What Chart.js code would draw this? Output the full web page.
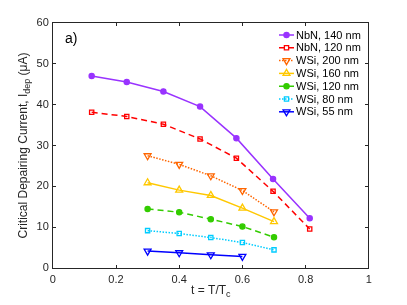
<!DOCTYPE html>
<html>
<head>
<meta charset="utf-8">
<script src="https://cdn.jsdelivr.net/npm/chart.js@4"></script>
<style>
  html, body { margin: 0; padding: 0; background: #fff; }
  #wrap { width: 407px; height: 305px; }
</style>
</head>
<body>
<div id="wrap"><canvas id="chart" width="407" height="305"></canvas></div>
<script>
// reduced temperature t = T/Tc
const tNbN = [0.123, 0.234, 0.35, 0.466, 0.581, 0.697, 0.813];
const tWSi = [0.3, 0.4, 0.5, 0.6, 0.7];
const tWSi55 = [0.3, 0.4, 0.5, 0.6];

// depairing current, uA
const nbn140 = [47.0, 45.5, 43.2, 39.5, 31.8, 21.8, 12.2];
const nbn120 = [38.1, 37.1, 35.2, 31.6, 26.9, 18.8, 9.6];
const wsi200 = [27.5, 25.4, 22.6, 19.0, 13.8];
const wsi160 = [20.9, 19.1, 17.8, 14.7, 11.4];
const wsi120 = [14.5, 13.7, 12.0, 10.2, 7.6];
const wsi80 = [9.2, 8.5, 7.5, 6.3, 4.5];
const wsi55 = [4.2, 3.8, 3.3, 2.9];

const xTicks = [0, 0.2, 0.4, 0.6, 0.8, 1];
const yTicks = [0, 10, 20, 30, 40, 50, 60];

const FONT = 'Helvetica, Arial, "Liberation Sans", sans-serif';
const AXIS = "#262626";

function pts(xs, ys) {
  return ys.map((y, i) => ({ x: xs[i], y: y }));
}

function series(label, xs, ys, color, dash, style, filled, rot, radius) {
  return {
    label: label,
    data: pts(xs, ys),
    borderColor: color,
    borderWidth: 1.5,
    borderDash: dash,
    pointStyle: style,
    pointRotation: rot || 0,
    pointRadius: radius,
    pointBorderWidth: 1.3,
    pointBorderColor: color,
    pointBackgroundColor: filled ? color : "rgba(0,0,0,0)",
    fill: false,
    tension: 0,
  };
}

const datasets = [
  series("NbN, 140 nm", tNbN, nbn140, "#9933FF", [], "circle", true, 0, 2.6),
  series("NbN, 120 nm", tNbN, nbn120, "#FF0000", [6, 4], "rect", false, 0, 3),
  series("WSi, 200 nm", tWSi, wsi200, "#FF6600", [1.5, 1.5], "triangle", false, 180, 4),
  series("WSi, 160 nm", tWSi, wsi160, "#FFC800", [], "triangle", false, 0, 4),
  series("WSi, 120 nm", tWSi, wsi120, "#33CC00", [6, 4], "circle", true, 0, 2.6),
  series("WSi, 80 nm", tWSi, wsi80, "#00CCFF", [1.5, 1.5], "rect", false, 0, 3),
  series("WSi, 55 nm", tWSi55, wsi55, "#0000FF", [], "triangle", false, 180, 4),
];

const snap = (p) => Math.round(p - 0.5) + 0.5;

// box round the plot area, in case the axis borders do not show
const frame = {
  id: "frame",
  afterDraw(chart) {
    const ctx = chart.ctx;
    const a = chart.chartArea;
    const xs = chart.scales.x;
    const ys = chart.scales.y;
    const L = snap(a.left), R = snap(a.right);
    const T = snap(a.top), B = snap(a.bottom);
    ctx.save();
    ctx.setLineDash([]);
    ctx.strokeStyle = AXIS;
    ctx.lineWidth = 1;
    ctx.beginPath();
    ctx.moveTo(L, T); ctx.lineTo(R, T); ctx.lineTo(R, B); ctx.lineTo(L, B); ctx.closePath();
    xTicks.forEach((v) => {
      const px = snap(xs.getPixelForValue(v));
      ctx.moveTo(px, B); ctx.lineTo(px, B - 3.5);
      ctx.moveTo(px, T); ctx.lineTo(px, T + 3.5);
    });
    yTicks.forEach((v) => {
      const py = snap(ys.getPixelForValue(v));
      ctx.moveTo(L, py); ctx.lineTo(L + 3.5, py);
      ctx.moveTo(R, py); ctx.lineTo(R - 3.5, py);
    });
    ctx.stroke();
    ctx.restore();
  },
};

// panel label, axis titles with subscripts, legend with line + marker
const decor = {
  id: "decor",
  afterDraw(chart) {
    const ctx = chart.ctx;
    const a = chart.chartArea;
    ctx.save();
    ctx.fillStyle = "#000";
    ctx.font = "14px " + FONT;
    ctx.textBaseline = "middle";
    ctx.textAlign = "left";
    ctx.fillText("a)", 65, 39);

    // x title: t = T/Tc
    ctx.fillStyle = AXIS;
    ctx.font = "12px " + FONT;
    ctx.textBaseline = "alphabetic";
    const xMain = "t = T/T";
    const w1 = ctx.measureText(xMain).width;
    ctx.font = "9px " + FONT;
    const w2 = ctx.measureText("c").width;
    let x0 = (a.left + a.right) / 2 - (w1 + w2) / 2;
    ctx.font = "12px " + FONT;
    ctx.fillText(xMain, x0, 294);
    ctx.font = "9px " + FONT;
    ctx.fillText("c", x0 + w1, 297);

    // y title: Critical Depairing Current, I_dep (uA)
    ctx.translate(27, (a.top + a.bottom) / 2);
    ctx.rotate(-Math.PI / 2);
    const p1 = "Critical Depairing Current, I";
    const p2 = "dep";
    const p3 = " (\u03bcA)";
    ctx.font = "12px " + FONT;
    const q1 = ctx.measureText(p1).width;
    const q3 = ctx.measureText(p3).width;
    ctx.font = "9px " + FONT;
    const q2 = ctx.measureText(p2).width;
    let y0 = -(q1 + q2 + q3) / 2;
    ctx.font = "12px " + FONT;
    ctx.fillText(p1, y0, 0);
    ctx.font = "9px " + FONT;
    ctx.fillText(p2, y0 + q1, 3);
    ctx.font = "12px " + FONT;
    ctx.fillText(p3, y0 + q1 + q2, 0);
    ctx.setTransform(1, 0, 0, 1, 0, 0);

    ctx.font = "11px " + FONT;
    ctx.textBaseline = "middle";
    chart.data.datasets.forEach((ds, i) => {
      const ly = 35 + i * 12.8;
      ctx.strokeStyle = ds.borderColor;
      ctx.lineWidth = ds.borderWidth;
      ctx.setLineDash(ds.borderDash);
      ctx.beginPath();
      ctx.moveTo(279, ly); ctx.lineTo(294, ly);
      ctx.stroke();
      ctx.setLineDash([]);
      ctx.fillStyle = ds.pointBackgroundColor;
      ctx.lineWidth = ds.pointBorderWidth;
      Chart.helpers.drawPoint(ctx, {
        pointStyle: ds.pointStyle,
        rotation: ds.pointRotation,
        radius: ds.pointRadius,
        borderWidth: ds.pointBorderWidth,
      }, 286.5, ly);
      ctx.fillStyle = "#000";
      ctx.fillText(ds.label, 296, ly + 0.5);
    });
    ctx.restore();
  },
};

// inward ticks (negative tickLength), box from the four axis borders
const boxGrid = { display: true, drawOnChartArea: false, drawTicks: true, tickLength: -3, color: AXIS, lineWidth: 1 };
const boxBorder = { display: true, color: AXIS, width: 1 };

new Chart(document.getElementById("chart"), {
  type: "line",
  data: { datasets: datasets },
  plugins: [frame, decor],
  options: {
    responsive: false,
    animation: false,
    layout: { padding: { top: 22.7, right: 38.2, left: 0, bottom: 0 } },
    plugins: { legend: { display: false }, tooltip: { enabled: false } },
    scales: {
      x: {
        type: "linear",
        position: "bottom",
        min: 0,
        max: 1,
        afterFit: (s) => { s.height = 36.7; },
        afterBuildTicks: (s) => { s.ticks = xTicks.map((v) => ({ value: v })); },
        grid: boxGrid,
        border: boxBorder,
        ticks: {
          color: AXIS,
          padding: 8,
          autoSkip: false,
          maxRotation: 0,
          font: { size: 11, family: FONT },
          callback: (v) => String(Math.round(v * 10) / 10),
        },
      },
      x2: {
        type: "linear",
        position: "top",
        min: 0,
        max: 1,
        afterFit: (s) => { s.height = 0; },
        afterBuildTicks: (s) => { s.ticks = xTicks.map((v) => ({ value: v })); },
        grid: boxGrid,
        border: boxBorder,
        ticks: { display: false },
      },
      y: {
        type: "linear",
        position: "left",
        min: 0,
        max: 60,
        afterFit: (s) => { s.width = 52.8; },
        afterBuildTicks: (s) => { s.ticks = yTicks.map((v) => ({ value: v })); },
        grid: boxGrid,
        border: boxBorder,
        ticks: {
          color: AXIS,
          padding: 7,
          autoSkip: false,
          font: { size: 11, family: FONT },
        },
      },
      y2: {
        type: "linear",
        position: "right",
        min: 0,
        max: 60,
        afterFit: (s) => { s.width = 0; },
        afterBuildTicks: (s) => { s.ticks = yTicks.map((v) => ({ value: v })); },
        grid: boxGrid,
        border: boxBorder,
        ticks: { display: false },
      },
    },
  },
});
</script>
</body>
</html>
